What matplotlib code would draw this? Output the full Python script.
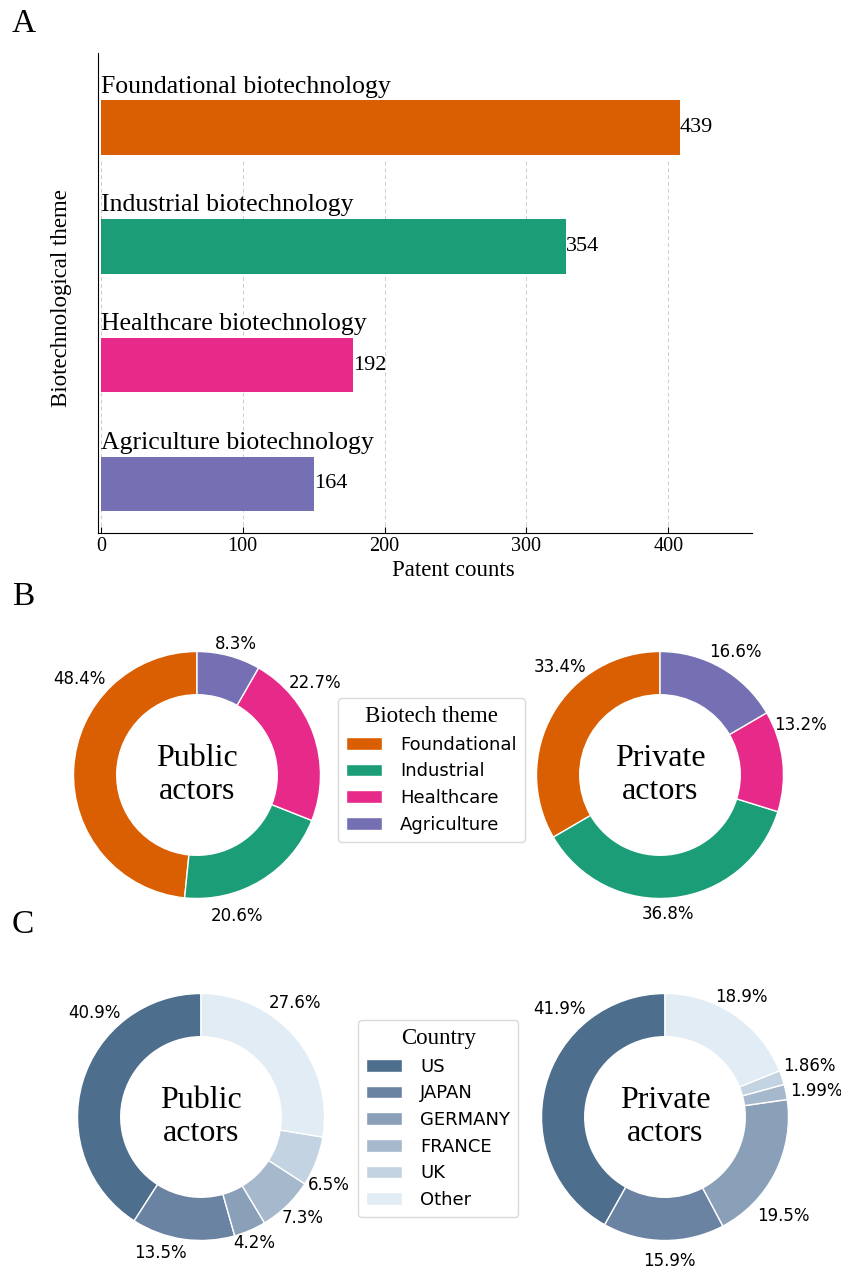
import numpy as np
import matplotlib
matplotlib.use("Agg")
import matplotlib.pyplot as plt

# ---- data ----
themes = ["Foundational biotechnology", "Industrial biotechnology",
          "Healthcare biotechnology", "Agriculture biotechnology"]
bar_lengths = [408, 328, 178, 150]
count_labels = [439, 354, 192, 164]

theme_short = ["Foundational", "Industrial", "Healthcare", "Agriculture"]
theme_public = [48.4, 20.6, 22.7, 8.3]
theme_private = [33.4, 36.8, 13.2, 16.6]

countries = ["US", "JAPAN", "GERMANY", "FRANCE", "UK", "Other"]
country_public = [40.9, 13.5, 4.2, 7.3, 6.5, 27.6]
country_private = [41.9, 15.9, 19.5, 1.99, 1.86, 18.9]

# ---- styles / layout ----
theme_colors = ["#d95f02", "#1b9e77", "#e7298a", "#7570b3"]
country_colors = ["#4e6e8e", "#6a83a2", "#8a9fb8", "#a6b8cb", "#c4d3e1", "#e2ecf5"]
SERIF = "Liberation Serif"
W, H = 841, 1270

# label placement (angle deg, distance in radii) for the percentage texts
lab_b_pub = [(140.9, 1.23), (-74.3, 1.19), (37.9, 1.21), (73.4, 1.11)]
lab_b_pri = [(132.9, 1.19), (-86.7, 1.13), (19.5, 1.21), (58.6, 1.17)]
lab_c_pub = [(135.7, 1.21), (-106.8, 1.15), (-67.3, 1.11), (-44.6, 1.16), (-28.2, 1.17), (50.5, 1.20)]
lab_c_pri = [(134.4, 1.22), (-88.3, 1.17), (-40.1, 1.25), (9.8, 1.24), (19.3, 1.24), (57.3, 1.15)]

fig = plt.figure(figsize=(W / 100, H / 100), dpi=100)


def px_axes(left, top, right, bottom):
    return fig.add_axes([left / W, 1 - bottom / H, (right - left) / W, (bottom - top) / H])


# ---- panel A: bars ----
ax = px_axes(98, 53, 752, 533)
pos = np.arange(len(themes))
bar_h = 0.459
y_top, y_bot = -0.628, 3.4125
ax.barh(pos, bar_lengths, height=bar_h, color=theme_colors, zorder=2)
ax.set_xlim(-2, 459)
ax.set_ylim(y_bot, y_top)
ticks = [0, 100, 200, 300, 400]
ax.vlines(ticks, bar_h / 2 + 0.055, y_bot, colors="#cccccc", linestyles=(0, (4, 3)),
          linewidth=0.7, zorder=1)
for i in range(len(themes)):
    ax.annotate(themes[i], xy=(0, pos[i] - bar_h / 2), xytext=(0, 2),
                textcoords="offset points", ha="left", va="bottom",
                fontsize=18.5, family=SERIF, zorder=3)
    ax.text(bar_lengths[i], pos[i], str(count_labels[i]), ha="left", va="center",
            fontsize=16, family=SERIF, zorder=3)
ax.set_xticks(ticks)
ax.set_yticks([])
for lab in ax.get_xticklabels():
    lab.set_family(SERIF)
ax.tick_params(axis="x", direction="in", length=4, width=0.8, labelsize=14.5, pad=3)
for s in ["top", "right"]:
    ax.spines[s].set_visible(False)
ax.set_xlabel("Patent counts", fontsize=16.5, family=SERIF)
ax.xaxis.set_label_coords(0.544, -0.056)
ax.set_ylabel("Biotechnological theme", fontsize=16.5, family=SERIF)
ax.yaxis.set_label_coords(-0.040, 0.49)


# ---- donuts ----
R_PX = 123.5
HALF = 150


def donut(cx, cy, values, colors, fmt, label_pos, center_text):
    a = px_axes(cx - HALF, cy - HALF, cx + HALF, cy + HALF)
    wedges, _, autotexts = a.pie(values, colors=colors, startangle=90, counterclock=True,
                                 autopct=fmt, pctdistance=1.2,
                                 wedgeprops=dict(width=0.35, edgecolor="white", linewidth=1),
                                 textprops=dict(fontsize=12))
    for t, (ang, d) in zip(autotexts, label_pos):
        t.set_position((d * np.cos(np.radians(ang)), d * np.sin(np.radians(ang))))
    lim = HALF / R_PX
    a.set_xlim(-lim, lim)
    a.set_ylim(-lim, lim)
    a.set_aspect("equal")
    a.text(0, 0, center_text, ha="center", va="center", fontsize=23, family=SERIF,
           linespacing=1.2)
    return wedges


w_b = donut(197, 775, theme_public, theme_colors, "%.1f%%", lab_b_pub, "Public\nactors")
donut(660, 775, theme_private, theme_colors, "%.1f%%", lab_b_pri, "Private\nactors")
w_c = donut(201, 1117, country_public, country_colors, "%.3g%%", lab_c_pub, "Public\nactors")
donut(665, 1117, country_private, country_colors, "%.3g%%", lab_c_pri, "Private\nactors")

leg_kw = dict(loc="upper left", fontsize=13, borderaxespad=0, labelspacing=0.48,
              handletextpad=1.0, borderpad=0.45, frameon=True, edgecolor="0.82",
              title_fontproperties=dict(family=SERIF, size=16.5))
fig.legend(w_b, theme_short, title="Biotech theme",
           bbox_to_anchor=(338 / W, 1 - 698 / H), **leg_kw)
fig.legend(w_c, countries, title="Country",
           bbox_to_anchor=(358 / W, 1 - 1020 / H), **leg_kw)

# panel letters
for letter, base in [("A", 32), ("B", 605), ("C", 933)]:
    fig.text(12 / W, 1 - base / H, letter, fontsize=24, family=SERIF, va="baseline")

fig.savefig("out.png", dpi=100)
